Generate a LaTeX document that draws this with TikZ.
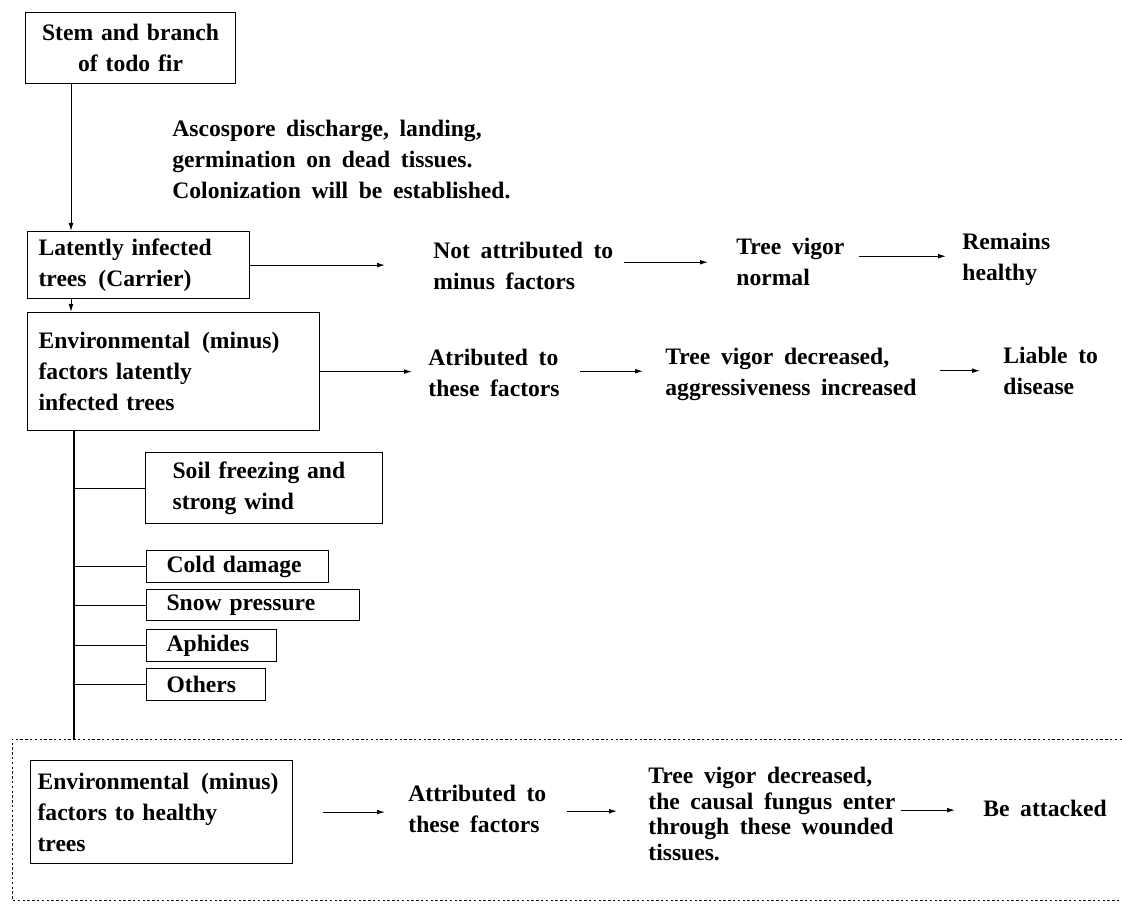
\documentclass[tikz,border=0pt]{standalone}
\usepackage{fontspec}
\setmainfont{Liberation Serif}
\usetikzlibrary{arrows.meta,positioning}

\newcommand\txt{\fontsize{11.8}{15.5}\selectfont\bfseries\spaceskip=0.45em plus 0.1em}
\newcommand\txtsm{\fontsize{11.8}{12.8}\selectfont\bfseries\spaceskip=0.45em plus 0.1em}

\tikzset{
  box/.style={draw, line width=0.6pt, anchor=north west, align=left, inner ysep=1pt, font=\txt},
  lbl/.style={anchor=north west, align=left, inner sep=0pt, font=\txt},
  arr/.style={-{Latex[length=4pt,width=2.4pt]}, line width=0.5pt},
  dotframe/.style={line width=0.5pt, dash pattern=on 1.2pt off 1.2pt},
}

\begin{document}
\begin{tikzpicture}[x=0.5pt,y=-0.5pt]
\useasboundingbox (0,0) rectangle (1122,903);

% main chain on the left
\node[box, align=center, text width=97pt, minimum height=35.5pt, inner xsep=4pt] (stem) at (25,12) {Stem and branch\\of todo fir};
\node[box, text width=100pt, minimum height=33.5pt, inner xsep=5.5pt] (carrier) at (27,231) {Latently infected\\trees\enspace(Carrier)};
\node[box, text width=135pt, minimum height=59pt, inner xsep=5.5pt] (latent) at (27,312) {Environmental\enspace(minus)\\factors latently\\infected trees};

\node[lbl] (asco) at (172,120) {Ascospore discharge, landing,\\germination on dead tissues.\\Colonization will be established.};

\draw[arr] ([xshift=23pt]stem.south west) -- ([xshift=23pt]stem.south west |- carrier.north);
\draw[arr] ([xshift=22pt]carrier.south west) -- ([xshift=22pt]carrier.south west |- latent.north);

% first row: carrier trees
\node[lbl] (notattr) at (433,242) {Not attributed to\\minus factors};
\node[lbl] (vignorm) at (736,238) {Tree vigor\\normal};
\node[lbl] (healthy) at (962,233) {Remains\\healthy};

\draw[arr] (carrier.east) -- ([xshift=-24pt]carrier.east -| notattr.west);
\draw[arr, shorten <=5pt, shorten >=14pt] ([yshift=2pt]notattr.east) -- ([yshift=2pt]notattr.east -| vignorm.west);
\draw[arr, shorten <=7pt, shorten >=8pt] ([yshift=3pt]vignorm.east) -- ([yshift=3pt]vignorm.east -| healthy.west);

% second row: latently infected trees
\node[lbl] (attr1) at (428,349) {Atributed to\\these factors};
\node[lbl] (vigdec1) at (665,348) {Tree vigor decreased,\\aggressiveness increased};
\node[lbl] (liable) at (1003,347) {Liable to\\disease};

\draw[arr] (latent.east) -- ([xshift=-8pt]latent.east -| attr1.west);
\draw[arr, shorten <=10pt, shorten >=11pt] ([yshift=1pt]attr1.east) -- ([yshift=1pt]attr1.east -| vigdec1.west);
\draw[arr, shorten <=11.5pt, shorten >=11.5pt] ([yshift=2pt]vigdec1.east) -- ([yshift=2pt]vigdec1.east -| liable.west);

% minus factors
\node[box, text width=91.5pt, minimum height=35.5pt, inner xsep=13.5pt] (soil) at (145,452) {Soil freezing and\\strong wind};
\node[box, text width=71pt, minimum height=16pt, inner xsep=10pt, inner ysep=0pt] (cold) at (146,550) {Cold damage};
\node[box, text width=86.5pt, minimum height=15.5pt, inner xsep=10pt, inner ysep=0pt] (snow) at (146,589) {Snow pressure};
\node[box, text width=45pt, minimum height=16pt, inner xsep=10pt, inner ysep=0pt] (aphid) at (146,629) {Aphides};
\node[box, text width=39.5pt, minimum height=16pt, inner xsep=10pt, inner ysep=0pt] (others) at (146,668) {Others};

\coordinate (trunk) at (74,739);
\draw[line width=0.6pt] (trunk |- latent.south) -- (trunk);
\foreach \f in {soil,cold,snow,aphid,others}
  \draw[line width=0.6pt] (trunk |- \f.west) -- (\f.west);

% healthy trees
\draw[dotframe] (1122,739) -- (12,739) -- (12,900) -- (1122,900);

\node[box, text width=124pt, minimum height=51.5pt, inner xsep=3.5pt] (healthyenv) at (30,760) {Environmental\enspace(minus)\\factors to healthy\\trees};
\node[lbl] (attr2) at (408,785) {Attributed to\\these factors};
\node[lbl, font=\txtsm] (vigdec2) at (648,767) {Tree vigor decreased,\\the causal fungus enter\\through these wounded\\tissues.};
\node[lbl] (attacked) at (983,800) {Be attacked};

\draw[arr, shorten <=15pt, shorten >=11.5pt] (healthyenv.east) -- (healthyenv.east -| attr2.west);
\draw[arr, shorten <=10pt, shorten >=15.5pt] ([yshift=-1pt]attr2.east) -- ([yshift=-1pt]attr2.east -| vigdec2.west);
\draw[arr, shorten <=2.5pt, shorten >=14pt] ([yshift=2pt]vigdec2.east) -- ([yshift=2pt]vigdec2.east -| attacked.west);
\end{tikzpicture}
\end{document}
